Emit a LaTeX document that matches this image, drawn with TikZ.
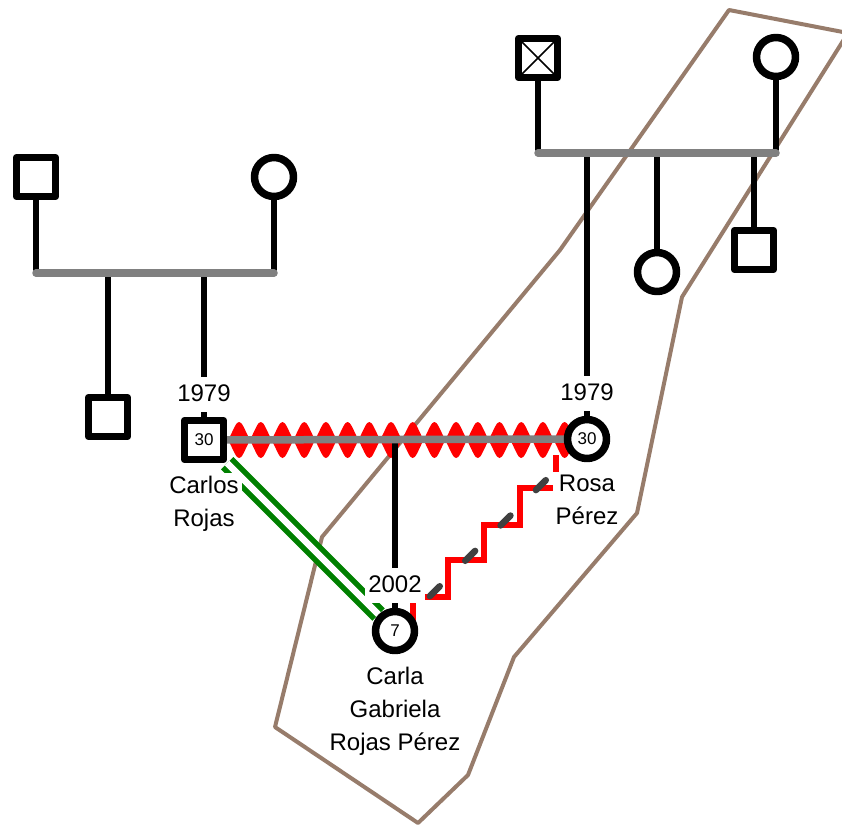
\documentclass[tikz,border=0pt]{standalone}
\usepackage{fontspec}
\setmainfont{Liberation Sans}
\usetikzlibrary{positioning, calc, backgrounds}
\definecolor{gengray}{HTML}{808080}
\definecolor{gengreen}{HTML}{008000}
\definecolor{genred}{HTML}{FF0000}
\definecolor{gendash}{HTML}{404040}
\definecolor{genbrown}{HTML}{977C6B}

\begin{document}
\begin{tikzpicture}[
  x=1pt, y=-1pt,
  person/.style={draw=black, fill=white, line width=7.5pt, line join=round, minimum size=39pt, inner sep=0pt, font=\fontsize{17}{17}\selectfont},
  male/.style={person, rectangle},
  female/.style={person, circle},
  deceased/.style={male, path picture={\draw[line width=1.5pt] (path picture bounding box.north west) -- (path picture bounding box.south east) (path picture bounding box.north east) -- (path picture bounding box.south west);}},
  stem/.style={line width=6.5pt, black},
  union/.style={line width=7.5pt, gengray, line cap=round},
  hostile/.style={genred},
  closeline/.style={gengreen, line width=5.5pt, double=white, double distance=6.5pt},
  conflict/.style={genred, line width=6.5pt},
  distant/.style={gendash, line width=6.5pt, line cap=round, dash pattern=on 14pt off 36pt, dash phase=15pt},
  cluster/.style={genbrown, line width=4pt, line join=round},
  year/.style={fill=white, inner sep=3pt, text height=22pt, text depth=7pt, font=\fontsize{24}{33}\selectfont},
  namelbl/.style={fill=white, inner sep=3pt, align=center, font=\fontsize{24}{33}\selectfont}
]
\useasboundingbox (0,0) rectangle (842,825);

\node[male] (pgf) at (36,177) {};
\node[female] (pgm) at (274,177) {};
\node[male] (uncle) at (108,417) {};
\node[male] (carlos) at (204,440) {30};
\node[deceased] (mgf) at (538,58) {};
\node[female] (mgm) at (776,57) {};
\node[female] (aunt) at (657,272) {};
\node[male] (uncleb) at (754,250) {};
\node[female] (rosa) at (587,439) {30};
\node[female] (carla) at (395,631) {7};

\coordinate (lunion) at (0,273);
\coordinate (runion) at (0,153);

\begin{scope}[on background layer]
\draw[cluster] (729,10) -- (848,33) -- (682,297) -- (637,513) -- (514,657) -- (468,775) -- (418,823) -- (275,727) -- (322,537) -- (560,250) -- cycle;
\draw[stem] (pgf) -- (pgf |- lunion);
\draw[stem] (pgm) -- (pgm |- lunion);
\draw[stem] (uncle) -- (uncle |- lunion);
\draw[stem] (carlos) -- (carlos |- lunion);
\draw[union] (pgf |- lunion) -- (pgm |- lunion);
\draw[stem] (mgf) -- (mgf |- runion);
\draw[stem] (mgm) -- (mgm |- runion);
\draw[stem] (rosa) -- (rosa |- runion);
\draw[stem] (aunt) -- (aunt |- runion);
\draw[stem] (uncleb) -- (uncleb |- runion);
\draw[union] (mgf |- runion) -- (mgm |- runion);
\foreach \i in {0,...,15}
  \fill[hostile] ($(carlos.east)+(\i*21.7+1,0)$) .. controls +(6,-12) and +(-3,0) .. ++(10.85,-18) .. controls +(3,0) and +(-6,-12) .. ++(10.85,18) .. controls +(-6,12) and +(3,0) .. ++(-10.85,18) .. controls +(-3,0) and +(6,12) .. ++(-10.85,-18);
\draw[stem] (carla) -- (carla |- carlos);
\draw[union] (carlos) -- (rosa);
\draw[closeline] (carlos) -- (carla);
\draw[conflict] ($(rosa)+(-31,16)$) -- ++(0,33) -- ++(-36,0) -- ++(0,37) -- ++(-36,0) -- ++(0,35) -- ++(-36,0) -- ++(0,37) -- ++(-35,0) |- (carla);
\draw[distant] (rosa) -- (carla);
\end{scope}

\node[year, above=5pt of carlos] (carlosyr) {1979};
\node[year, above=5pt of rosa] (rosayr) {1979};
\node[year, above=5pt of carla] (carlayr) {2002};
\node[namelbl, below=9.5pt of carlos] (carloslbl) {Carlos\\Rojas};
\node[namelbl, below=9.5pt of rosa] (rosalbl) {Rosa\\Pérez};
\node[namelbl, below=9.5pt of carla] (carlalbl) {Carla\\Gabriela\\Rojas Pérez};
\end{tikzpicture}
\end{document}
